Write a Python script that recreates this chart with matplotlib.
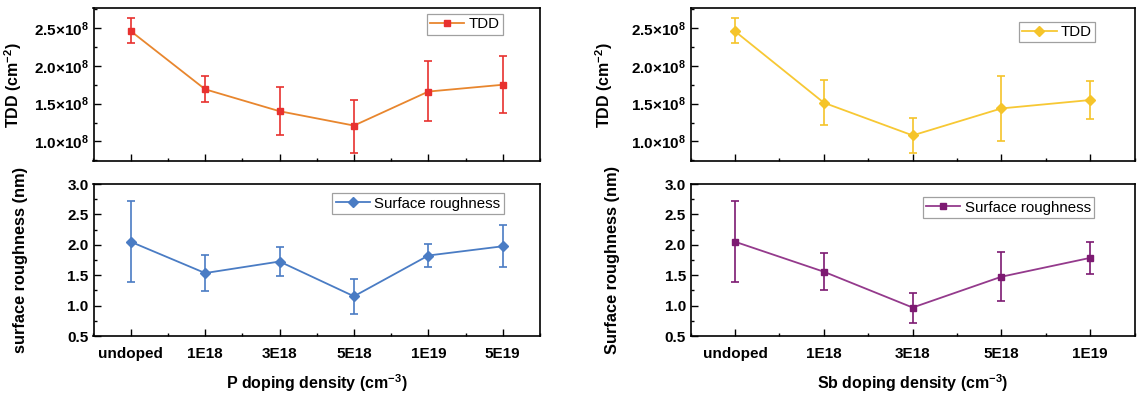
import matplotlib
matplotlib.use("Agg")
import matplotlib.pyplot as plt
from matplotlib.ticker import MultipleLocator, FuncFormatter

plt.rcParams['font.family'] = ['Liberation Sans', 'DejaVu Sans']
plt.rcParams['mathtext.fontset'] = 'custom'
plt.rcParams['mathtext.rm'] = 'Liberation Sans'
plt.rcParams['mathtext.bf'] = 'Liberation Sans:bold'
plt.rcParams['mathtext.it'] = 'Liberation Sans:italic'

# ---------------- data ----------------
p_labels = ["undoped", "1E18", "3E18", "5E18", "1E19", "5E19"]
p_tdd = [2.46e8, 1.69e8, 1.40e8, 1.21e8, 1.66e8, 1.75e8]
p_tdd_hi = [2.63e8, 1.865e8, 1.714e8, 1.55e8, 2.06e8, 2.13e8]
p_tdd_lo = [2.30e8, 1.52e8, 1.088e8, 0.85e8, 1.27e8, 1.37e8]
p_rough = [2.05, 1.535, 1.725, 1.153, 1.824, 1.976]
p_rough_hi = [2.717, 1.829, 1.96, 1.442, 2.009, 2.325]
p_rough_lo = [1.393, 1.235, 1.49, 0.865, 1.627, 1.633]

sb_labels = ["undoped", "1E18", "3E18", "5E18", "1E19"]
sb_tdd = [2.456e8, 1.512e8, 1.08e8, 1.437e8, 1.548e8]
sb_tdd_hi = [2.628e8, 1.816e8, 1.31e8, 1.865e8, 1.80e8]
sb_tdd_lo = [2.297e8, 1.218e8, 0.847e8, 1.00e8, 1.30e8]
sb_rough = [2.05, 1.557, 0.968, 1.475, 1.785]
sb_rough_hi = [2.717, 1.867, 1.213, 1.889, 2.052]
sb_rough_lo = [1.393, 1.257, 0.712, 1.072, 1.524]

W, H = 1143, 395
fig = plt.figure(figsize=(W / 100, H / 100), dpi=100)


def px_axes(x0, x1, y0, y1):
    return fig.add_axes([x0 / W, 1 - y1 / H, (x1 - x0) / W, (y1 - y0) / H])


def sci_fmt(v, pos):
    return "%.1f×10$^{\\mathbf{8}}$" % (v / 1e8)


def style(ax, n):
    for s in ax.spines.values():
        s.set_linewidth(1.2)
    ax.set_xlim(-0.5, n - 0.5)
    ax.set_xticks(range(n))
    ax.xaxis.set_minor_locator(MultipleLocator(0.5))
    ax.tick_params(which='major', direction='in', length=5, width=1.0,
                   labelsize=11, top=False, right=False)
    ax.tick_params(which='minor', direction='in', length=2.5, width=1.0,
                   top=False, right=False)


def boldticks(ax):
    for lab in ax.get_xticklabels() + ax.get_yticklabels():
        lab.set_fontweight('bold')


def errplot(ax, y, hi, lo, lcolor, mcolor, marker, ms, label):
    x = list(range(len(y)))
    yerr = [[a - b for a, b in zip(y, lo)], [b - a for a, b in zip(y, hi)]]
    ax.errorbar(x, y, yerr=yerr, fmt='none', ecolor=mcolor, elinewidth=1.2,
                capsize=3, capthick=1.2, zorder=2)
    ax.plot(x, y, '-', color=lcolor, lw=1.3, marker=marker, ms=ms,
            mfc=mcolor, mec=mcolor, label=label, zorder=3)


def legend(ax, ax_anchor):
    leg = ax.legend(loc='upper right', bbox_to_anchor=ax_anchor, borderaxespad=0,
                    fancybox=False, edgecolor='#a0a0a0', fontsize=10.8,
                    handlelength=2.3, handletextpad=0.28, borderpad=0.22,
                    framealpha=1)
    leg.get_frame().set_linewidth(0.9)


# ---------------- layout (pixels) ----------------
L0, L1 = 93.5, 540
R0, R1 = 690.7, 1134.6
T0, T1 = 8, 161.5
B0, B1 = 184, 336

# ---------------- left panels (P) ----------------
ax1 = px_axes(L0, L1, T0, T1)
errplot(ax1, p_tdd, p_tdd_hi, p_tdd_lo, '#e8862e', '#e8312f', 's', 5, 'TDD')
ax1.set_ylim(0.735e8, 2.765e8)
ax1.yaxis.set_major_locator(MultipleLocator(0.5e8))
ax1.yaxis.set_minor_locator(MultipleLocator(0.25e8))
ax1.yaxis.set_major_formatter(FuncFormatter(sci_fmt))
style(ax1, len(p_labels))
ax1.set_xticklabels([])
boldticks(ax1)
ax1.set_ylabel(r"TDD (cm$^{\mathbf{-2}}$)", fontsize=11.5, fontweight='bold')
ax1.yaxis.set_label_coords(-0.155, 0.5)
legend(ax1, (0.917, 0.961))

ax2 = px_axes(L0, L1, B0, B1)
errplot(ax2, p_rough, p_rough_hi, p_rough_lo, '#4a7cc4', '#4a7cc4', 'D', 5.3,
        'Surface roughness')
ax2.set_ylim(0.5, 3.0)
ax2.yaxis.set_major_locator(MultipleLocator(0.5))
ax2.yaxis.set_minor_locator(MultipleLocator(0.25))
ax2.yaxis.set_major_formatter(FuncFormatter(lambda v, p: "%.1f" % v))
style(ax2, len(p_labels))
ax2.set_xticklabels(p_labels)
boldticks(ax2)
ax2.tick_params(axis='x', pad=8)
ax2.set_ylabel("surface roughness (nm)", fontsize=11.8, fontweight='bold')
ax2.yaxis.set_label_coords(-0.147, 0.5)
ax2.set_xlabel(r"P doping density (cm$^{\mathbf{-3}}$)", fontsize=11.5,
               fontweight='bold', labelpad=8)
legend(ax2, (0.919, 0.939))

# ---------------- right panels (Sb) ----------------
ax3 = px_axes(R0, R1, T0, T1)
errplot(ax3, sb_tdd, sb_tdd_hi, sb_tdd_lo, '#f7c834', '#f5c42a', 'D', 5.3, 'TDD')
ax3.set_ylim(0.735e8, 2.765e8)
ax3.yaxis.set_major_locator(MultipleLocator(0.5e8))
ax3.yaxis.set_minor_locator(MultipleLocator(0.25e8))
ax3.yaxis.set_major_formatter(FuncFormatter(sci_fmt))
style(ax3, len(sb_labels))
ax3.set_xticklabels([])
boldticks(ax3)
ax3.set_ylabel(r"TDD (cm$^{\mathbf{-2}}$)", fontsize=11.5, fontweight='bold')
ax3.yaxis.set_label_coords(-0.171, 0.5)
legend(ax3, (0.911, 0.911))

ax4 = px_axes(R0, R1, B0, B1)
errplot(ax4, sb_rough, sb_rough_hi, sb_rough_lo, '#943a8c', '#7d1a72', 's', 5,
        'Surface roughness')
ax4.set_ylim(0.5, 3.0)
ax4.yaxis.set_major_locator(MultipleLocator(0.5))
ax4.yaxis.set_minor_locator(MultipleLocator(0.25))
ax4.yaxis.set_major_formatter(FuncFormatter(lambda v, p: "%.1f" % v))
style(ax4, len(sb_labels))
ax4.set_xticklabels(sb_labels)
boldticks(ax4)
ax4.tick_params(axis='x', pad=8)
ax4.set_ylabel("Surface roughness (nm)", fontsize=11.8, fontweight='bold')
ax4.yaxis.set_label_coords(-0.159, 0.5)
ax4.set_xlabel(r"Sb doping density (cm$^{\mathbf{-3}}$)", fontsize=11.5,
               fontweight='bold', labelpad=8)
legend(ax4, (0.9085, 0.9125))

fig.savefig("out.png", dpi=100, facecolor='white')
